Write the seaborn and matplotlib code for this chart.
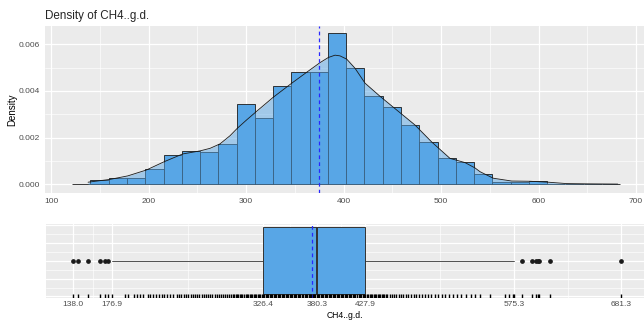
import numpy as np
import pandas as pd
import seaborn as sns
import matplotlib
matplotlib.use("Agg")
import matplotlib.pyplot as plt

# histogram (30 bins, ggplot-style origin) - density heights
bin_start = 121.75
bin_width = 18.734
hist_density = [0.00003, 0.00017, 0.00028, 0.00026, 0.00067, 0.00124, 0.00143, 0.00137,
                0.00171, 0.00343, 0.00284, 0.00420, 0.00481, 0.00481, 0.00647, 0.00497,
                0.00377, 0.00330, 0.00254, 0.00181, 0.00111, 0.00094, 0.00044, 0.00011,
                0.00009, 0.00015, 0.00003, 0.0, 0.0, 0.00003]

# kernel density curve
dens_x = [138, 141.7, 160.5, 178.7, 197.7, 216.2, 235.1, 252.8, 263.1, 273.3, 283.6, 291.1,
          300.7, 311, 328, 346.9, 362.3, 375.9, 384.4, 391.3, 396.4, 403.3, 411.8, 422.1,
          437.4, 451.1, 473.3, 490.5, 509.2, 524.6, 534.9, 540, 553.6, 572.5, 591.3, 610,
          628.9, 650, 681.3]
dens_y = [0.00009, 0.00011, 0.00021, 0.00036, 0.00061, 0.00097, 0.0013, 0.00143, 0.00154,
          0.00173, 0.00208, 0.0024, 0.00276, 0.00313, 0.00373, 0.00433, 0.0048, 0.00521,
          0.00543, 0.00553, 0.0055, 0.00536, 0.00497, 0.00433, 0.00377, 0.0033, 0.00254,
          0.00181, 0.00111, 0.00093, 0.0007, 0.00054, 0.00026, 0.00014, 0.00013, 0.00009,
          0.00003, 0.00002, 0.00001]

mean_val = 375.2

# boxplot summary
q1, med, q3 = 326.4, 380.3, 427.9
whis_lo, whis_hi = 176.9, 575.3
outliers = [138.0, 143.2, 152.8, 165.0, 170.0, 173.0,
            582.8, 592.7, 596.7, 598.7, 600.0, 610.9, 681.3]
box_breaks = [138.0, 176.9, 326.4, 380.3, 427.9, 575.3, 681.3]

# rug tick positions
rug_values = [138.0, 143.2, 152.8, 165.0, 170.0, 173.0, 176.9, 189.5, 192.8, 198, 201, 204,
              207, 212, 214, 217, 220, 223, 226, 228, 231, 234, 237, 241, 243, 245, 248, 250,
              252, 255, 257, 259, 261, 263, 266, 268, 270, 272, 274, 276, 279, 281, 283, 285,
              287, 289, 291, 293, 295, 297, 298, 299.5, 301, 302, 303.5, 305, 306, 307.5, 309,
              310, 311.5, 313, 314, 315.5, 317, 318, 319.5, 321, 322, 323.5, 325, 326.4,
              327.5, 329, 330, 331.5, 333, 334, 335.5, 337, 338, 339.5, 341, 342, 343.5, 345,
              346, 347.5, 349, 350, 351.5, 353, 354, 355.5, 357, 358, 359.5, 361, 362, 363.5,
              365, 366, 367.5, 369, 370, 371.5, 373, 374, 375.5, 377, 378, 379.5, 381, 382,
              383.5, 385, 386, 387.5, 389, 390, 391.5, 393, 394, 395.5, 397, 398, 399.5, 401,
              402, 403.5, 405, 406, 407.5, 409, 410, 411.5, 413, 414, 415.5, 417, 418, 419.5,
              421, 422, 423.5, 425, 426, 427.9, 429, 430.5, 432, 433, 434.5, 436, 437, 438.5,
              440, 441, 442.5, 444, 445, 446.5, 448, 449, 452, 454, 456, 458, 461, 463, 465,
              468, 470, 473, 476, 478, 481, 484, 487, 490, 493, 497, 500, 504, 507, 511, 515,
              519, 523, 528, 533, 536, 541.5, 551.4, 566.3, 570.6, 573.9, 575.3, 582.8, 592.7,
              596.7, 598.7, 600.0, 610.9, 681.3]

bin_edges = [bin_start + bin_width * i for i in range(len(hist_density) + 1)]
hist_df = pd.DataFrame({
    "value": [e + bin_width / 2 for e in bin_edges[:-1]],
    "density": hist_density,
})

fill = "#58A6E6"
sns.set_style("darkgrid", {"axes.facecolor": "#EBEBEB", "grid.color": "white"})
plt.rcParams["font.family"] = ["Liberation Sans", "DejaVu Sans"]

fig = plt.figure(figsize=(6.44, 3.2), dpi=100)
ax1 = fig.add_axes([0.0696, 0.3978, 0.936, 0.521])
ax2 = fig.add_axes([0.0708, 0.0700, 0.9362, 0.23125])

# ---- top: histogram + density ----
sns.histplot(data=hist_df, x="value", weights="density", bins=bin_edges, ax=ax1,
             color=fill, alpha=1, edgecolor="#1a1a1a", linewidth=0.6, zorder=2)
ax1.fill_between(dens_x, dens_y, color=fill, alpha=0.5, lw=0, zorder=3)
sns.lineplot(x=dens_x, y=dens_y, ax=ax1, color="#1a1a1a", lw=0.6, zorder=4)
ax1.axvline(mean_val, color="#2828FF", ls=(0, (3, 2.5)), lw=0.9, zorder=10)

ax1.set_xlim(93.65, 711.9)
ax1.set_ylim(-0.00036, 0.00678)
ax1.set_xticks(range(100, 701, 100))
ax1.set_xticks(range(150, 701, 100), minor=True)
ax1.set_yticks([0, 0.002, 0.004, 0.006])
ax1.set_yticks([0.001, 0.003, 0.005], minor=True)
ax1.set_yticklabels(["0.000", "0.002", "0.004", "0.006"])
ax1.grid(which="major", color="white", lw=0.9)
ax1.grid(which="minor", color="white", lw=0.45)
ax1.set_axisbelow(True)
ax1.set_xlabel("")
ax1.set_ylabel("Density", fontsize=7, color="black")
ax1.yaxis.set_label_coords(-0.045, 0.5)
ax1.set_title("Density of CH4..g.d.", loc="left", fontsize=8.4, pad=5)

# ---- bottom: boxplot + rug ----
stats = [dict(med=med, q1=q1, q3=q3, whislo=whis_lo, whishi=whis_hi, fliers=outliers)]
ax2.bxp(stats, positions=[0], widths=0.75, orientation="horizontal", patch_artist=True,
        showcaps=False, manage_ticks=False,
        boxprops=dict(facecolor=fill, edgecolor="#333333", lw=0.7),
        medianprops=dict(color="#333333", lw=1.4),
        whiskerprops=dict(color="#333333", lw=0.6),
        flierprops=dict(marker="o", markersize=2.4, markerfacecolor="#1a1a1a",
                        markeredgecolor="#1a1a1a"))
ax2.axvline(mean_val, color="#2828FF", ls=(0, (3, 2.5)), lw=0.9, zorder=5)
sns.rugplot(x=rug_values, ax=ax2, height=0.05, color="black", lw=1.0, zorder=6)

ax2.set_xlim(110.8, 708.5)
ax2.set_ylim(-0.4125, 0.4125)
ax2.set_xticks(box_breaks)
ax2.set_xticklabels([f"{b:.1f}" for b in box_breaks])
mids = [(a + b) / 2 for a, b in zip(box_breaks[:-1], box_breaks[1:])]
ax2.set_xticks(mids, minor=True)
ax2.set_yticks([-0.4, -0.2, 0, 0.2, 0.4])
ax2.set_yticks([-0.3, -0.1, 0.1, 0.3], minor=True)
ax2.set_yticklabels([])
ax2.grid(which="major", color="white", lw=0.9)
ax2.grid(which="minor", color="white", lw=0.45)
ax2.set_axisbelow(True)
ax2.set_xlabel("")
fig.text(ax2.get_position().x0 + ax2.get_position().width / 2 - 0.003, 0.001,
         "CH4..g.d.", fontsize=6.2, color="black", ha="center", va="bottom")

for ax in (ax1, ax2):
    for s in ax.spines.values():
        s.set_visible(False)
    ax.tick_params(axis="both", which="major", labelsize=6, labelcolor="#4D4D4D",
                   color="#333333", length=2, width=0.5, pad=1.5)
    ax.tick_params(which="minor", length=0)
ax2.tick_params(axis="x", which="major", length=1.6, pad=0.6)
ax2.tick_params(axis="y", which="both", length=0)

fig.savefig("out.png", dpi=100, facecolor="white")
